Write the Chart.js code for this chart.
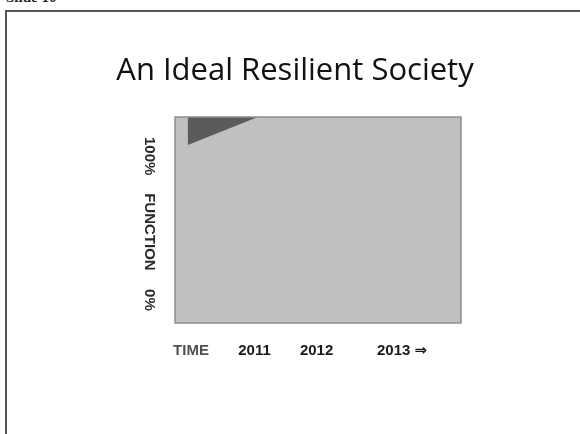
<!DOCTYPE html>
<html>
<head>
<meta charset="utf-8">
<script src="https://cdn.jsdelivr.net/npm/chart.js@4/dist/chart.umd.min.js"></script>
<style>
  html, body { margin: 0; padding: 0; background: #fff; width: 580px; height: 434px; overflow: hidden; }
  #frame { position: absolute; left: 5px; top: 10px; width: 640px; height: 500px; border: 2px solid #555; box-sizing: border-box; }
  #slideLabel { position: absolute; left: 6px; top: -11px; font: bold 15px "Liberation Serif", serif; color: #222; }
  #wrap { position: absolute; left: 0; top: 0; width: 580px; height: 434px; }
  #title { position: absolute; left: 0; top: 53px; width: 590px; text-align: center; font: 31px/1 "Open Sans", sans-serif; color: #111; white-space: nowrap; }
</style>
</head>
<body>
<div id="slideLabel">Slide 10</div>
<div id="frame"></div>
<div id="wrap"><canvas id="c" width="580" height="434"></canvas></div>
<div id="title"></div>
<script>
// ---- data ----
const timeX        = [0, 4.5, 4.5, 29, 100];        // time position (0..100 across the plot)
const functionPct  = [100, 100, 86.4, 100, 100];    // % function of society
const xTickValues  = [5.6, 27.8, 49.5, 79.4];
const xTickLabels  = ['TIME', '2011', '2012', '2013 ⇒'];
const yLabelValues = [81, 44.2, 11.2];
const yLabelTexts  = ['100%', 'FUNCTION', '0%'];
const titleText    = 'An Ideal Resilient Society';

document.getElementById('title').textContent = titleText;

const points = timeX.map((x, i) => ({ x: x, y: functionPct[i] }));

const plotDecor = {
  id: 'plotDecor',
  beforeDatasetsDraw(chart) {
    const { ctx, chartArea: a } = chart;
    ctx.save();
    ctx.fillStyle = '#5b5b5b';
    ctx.fillRect(a.left, a.top, a.right - a.left, a.bottom - a.top);
    ctx.restore();
  },
  afterDatasetsDraw(chart) {
    const { ctx, chartArea: a, scales } = chart;
    ctx.save();
    ctx.strokeStyle = '#8e8e8e';
    ctx.lineWidth = 1.5;
    ctx.strokeRect(a.left, a.top, a.right - a.left, a.bottom - a.top);
    // rotated y labels (read top to bottom)
    ctx.fillStyle = '#2a2a2a';
    ctx.font = 'bold 15px "Liberation Sans", Arial, sans-serif';
    ctx.textAlign = 'center';
    ctx.textBaseline = 'middle';
    yLabelValues.forEach((v, i) => {
      const y = scales.y.getPixelForValue(v);
      ctx.save();
      ctx.translate(149, y);
      ctx.rotate(Math.PI / 2);
      ctx.fillText(yLabelTexts[i], 0, 0);
      ctx.restore();
    });
    ctx.restore();
  }
};

new Chart(document.getElementById('c'), {
  type: 'scatter',
  data: {
    datasets: [{
      data: points,
      showLine: true,
      fill: 'origin',
      backgroundColor: '#c0c0c0',
      borderWidth: 0,
      borderColor: '#c0c0c0',
      pointRadius: 0,
      tension: 0
    }]
  },
  options: {
    responsive: false,
    animation: false,
    layout: { padding: { left: 175, right: 119, top: 117, bottom: 0 } },
    plugins: {
      legend: { display: false },
      tooltip: { enabled: false },
      title: { display: false }
    },
    scales: {
      x: {
        type: 'linear', min: 0, max: 100,
        border: { display: false },
        grid: { display: false, drawTicks: false },
        afterBuildTicks(scale) { scale.ticks = xTickValues.map(v => ({ value: v })); },
        afterFit(scale) { scale.height = 111; },
        ticks: {
          padding: 19,
          maxRotation: 0, minRotation: 0,
          autoSkip: false,
          font: { family: '"Liberation Sans", "DejaVu Sans", Arial, sans-serif', size: 15, weight: 'bold' },
          color: (ctx) => ctx.index === 0 ? '#505050' : '#1a1a1a',
          callback: (v, i) => xTickLabels[i]
        }
      },
      y: {
        type: 'linear', min: 0, max: 100,
        display: false
      }
    }
  },
  plugins: [plotDecor]
});
</script>
</body>
</html>
